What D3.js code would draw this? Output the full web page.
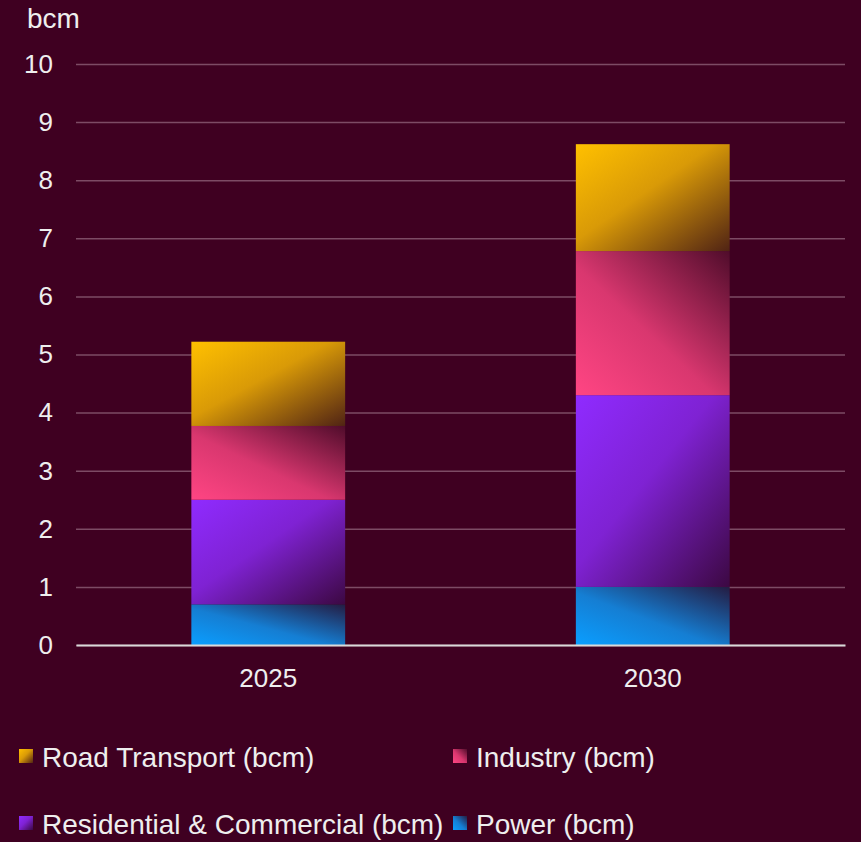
<!DOCTYPE html>
<html>
<head>
<meta charset="utf-8">
<script src="https://cdn.jsdelivr.net/npm/d3@7"></script>
<style>
  html, body { margin: 0; padding: 0; background: #3f0021; }
  #chart { width: 861px; height: 842px; }
</style>
</head>
<body>
<div id="chart"></div>
<script>
// data
const years = ['2025', '2030'];
const seriesNames = ['Power (bcm)', 'Residential & Commercial (bcm)', 'Industry (bcm)', 'Road Transport (bcm)'];
const power = [0.70, 1.00];
const residential = [1.80, 3.30];
const industry = [1.27, 2.48];
const roadTransport = [1.45, 1.84];
const yTicks = [0, 1, 2, 3, 4, 5, 6, 7, 8, 9, 10];

const seriesValues = [power, residential, industry, roadTransport];
const seriesColors = ['#0a9eff', '#8f2bff', '#ff4583', '#ffc000'];
// which way the shading runs: true = light at bottom-left
const fromBottom = [true, false, true, false];

const bg = '#3f0021';
const width = 861;
const height = 842;
const margin = { top: 64, right: 16, bottom: 197, left: 76 };
const fontFamily = '"Liberation Sans", Arial, sans-serif';

const svg = d3.select('#chart')
    .append('svg')
    .attr('width', width)
    .attr('height', height)
    .style('background', bg);

// gradients
const defs = svg.append('defs');
seriesColors.forEach((c, i) => {
    const g = defs.append('linearGradient')
        .attr('id', 'grad' + i)
        .attr('x1', 0).attr('x2', 1)
        .attr('y1', fromBottom[i] ? 1 : 0)
        .attr('y2', fromBottom[i] ? 0 : 1);
    g.append('stop').attr('offset', 0).attr('stop-color', c);
    g.append('stop').attr('offset', 0.45).attr('stop-color', d3.interpolateRgb(c, bg)(0.2));
    g.append('stop').attr('offset', 1).attr('stop-color', d3.interpolateRgb(c, '#2a0018')(0.82));
});

// scales
const xScale = d3.scaleBand()
    .domain(years)
    .range([margin.left, width - margin.right])
    .paddingInner(0.6)
    .paddingOuter(0.3);

const yScale = d3.scaleLinear()
    .domain([0, 10])
    .range([height - margin.bottom, margin.top]);

// y axis + grid
const yAxis = svg.append('g')
    .attr('transform', `translate(${margin.left}, 0)`)
    .call(d3.axisLeft(yScale)
        .tickValues(yTicks)
        .tickFormat(d3.format('d'))
        .tickSizeInner(-(width - margin.left - margin.right))
        .tickSizeOuter(0)
        .tickPadding(23));
yAxis.select('.domain').remove();
yAxis.selectAll('line')
    .attr('stroke', '#7d4b65')
    .attr('stroke-width', 1.5);
yAxis.selectAll('text')
    .attr('fill', '#eeeeee')
    .style('font-family', fontFamily)
    .style('font-size', '26px');

// unit label
svg.append('text')
    .attr('x', 27)
    .attr('y', 28)
    .attr('fill', '#eeeeee')
    .style('font-family', fontFamily)
    .style('font-size', '28px')
    .text('bcm');

// stacked bars
const table = years.map((y, i) => {
    const row = { year: y };
    seriesNames.forEach((s, j) => { row[s] = seriesValues[j][i]; });
    return row;
});
const stacked = d3.stack().keys(seriesNames)(table);

svg.selectAll('.layer')
    .data(stacked)
    .enter()
    .append('g')
    .attr('class', 'layer')
    .attr('fill', (d, i) => `url(#grad${i})`)
    .selectAll('rect')
    .data(d => d)
    .enter()
    .append('rect')
    .attr('x', d => xScale(d.data.year))
    .attr('y', d => yScale(d[1]))
    .attr('width', xScale.bandwidth())
    .attr('height', d => yScale(d[0]) - yScale(d[1]));

// x axis
const xAxis = svg.append('g')
    .attr('transform', `translate(0, ${height - margin.bottom})`)
    .call(d3.axisBottom(xScale).tickSize(0).tickPadding(24));
xAxis.select('.domain')
    .attr('stroke', '#d9d9d9')
    .attr('stroke-width', 2);
xAxis.selectAll('text')
    .attr('fill', '#eeeeee')
    .style('font-family', fontFamily)
    .style('font-size', '26px');

// legend
const legendItems = [
    { name: 'Road Transport (bcm)', idx: 3, x: 19, y: 749 },
    { name: 'Industry (bcm)', idx: 2, x: 453, y: 749 },
    { name: 'Residential & Commercial (bcm)', idx: 1, x: 19, y: 816 },
    { name: 'Power (bcm)', idx: 0, x: 453, y: 816 }
];
const legend = svg.selectAll('.legend')
    .data(legendItems)
    .enter()
    .append('g')
    .attr('class', 'legend')
    .attr('transform', d => `translate(${d.x}, ${d.y})`);
legend.append('rect')
    .attr('width', 14)
    .attr('height', 14)
    .attr('fill', d => `url(#grad${d.idx})`);
legend.append('text')
    .attr('x', 23)
    .attr('y', 18)
    .attr('fill', '#eeeeee')
    .style('font-family', fontFamily)
    .style('font-size', '28px')
    .text(d => d.name);
</script>
</body>
</html>
